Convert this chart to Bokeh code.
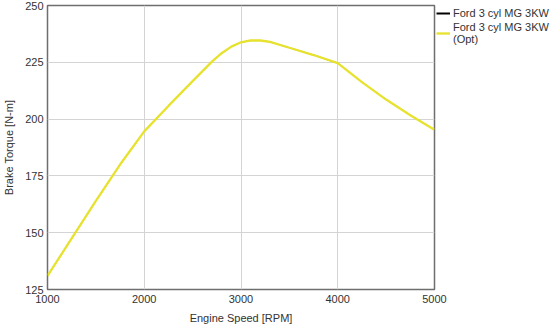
from bokeh.plotting import figure
from bokeh.models import Legend, LegendItem, FixedTicker, Range1d
from bokeh.embed import file_html
from bokeh.resources import INLINE

rpm = [1000, 1250, 1500, 1750, 2000, 2250, 2500, 2700, 2800, 2900, 3000, 3100, 3200, 3300, 3500, 3750, 4000, 4250, 4500, 4750, 5000]
torque = [131.0, 147.5, 164.0, 180.0, 194.6, 205.8, 216.7, 225.3, 229.0, 231.9, 233.8, 234.6, 234.6, 234.0, 231.4, 228.2, 224.6, 216.3, 208.6, 201.7, 195.3]
torque_opt = list(torque)
x_ticks = [1000, 2000, 3000, 4000, 5000]
y_ticks = [125, 150, 175, 200, 225, 250]
series_names = ["Ford 3 cyl MG 3KW", "Ford 3 cyl MG 3KW\n(Opt)"]

FONT = "Liberation Sans"

p = figure(frame_width=387, frame_height=284, output_backend="svg", toolbar_location=None,
           x_range=Range1d(1000, 5000), y_range=Range1d(125, 250),
           min_border_top=5, min_border_bottom=0, min_border_left=0, min_border_right=0)
p.background_fill_color = "white"
p.border_fill_color = "white"
p.outline_line_color = "#6e6e6e"
p.outline_line_width = 1.5

# black series lies underneath the optimised (yellow) series
p.line(rpm, torque, line_color="black", line_width=1)
r2 = p.line(rpm, torque_opt, line_color="#e6e22e", line_width=2.3)
# legend swatch for black series (a single point draws no visible line)
r1 = p.line(rpm[:1], torque[:1], line_color="black", line_width=2)

for ax in (p.xaxis[0], p.yaxis[0]):
    ax.axis_line_color = None
    ax.major_tick_line_color = None
    ax.minor_tick_line_color = None
    ax.major_label_text_font = FONT
    ax.major_label_text_font_size = "11px"
    ax.major_label_text_color = "#333333"
    ax.axis_label_text_font = FONT
    ax.axis_label_text_font_size = "11px"
    ax.axis_label_text_font_style = "normal"
    ax.axis_label_text_color = "#333333"
    ax.major_tick_out = 0
    ax.major_tick_in = 0

p.xaxis.ticker = FixedTicker(ticks=x_ticks)
p.yaxis.ticker = FixedTicker(ticks=y_ticks)
p.xaxis.axis_label = "Engine Speed [RPM]"
p.yaxis.axis_label = "Brake Torque [N-m]"
p.xaxis.major_label_standoff = 5
p.yaxis.major_label_standoff = 4
p.xaxis.axis_label_standoff = 6
p.yaxis.axis_label_standoff = 7

p.xgrid.ticker = FixedTicker(ticks=x_ticks)
p.ygrid.ticker = FixedTicker(ticks=y_ticks)
p.grid.grid_line_color = "#d4d4d4"
p.grid.grid_line_width = 1

legend = Legend(items=[LegendItem(label=series_names[0], renderers=[r1]),
                       LegendItem(label=series_names[1], renderers=[r2])],
                location="top_left")
legend.border_line_color = None
legend.background_fill_alpha = 0
legend.label_text_font = FONT
legend.label_text_font_size = "11px"
legend.label_text_color = "#333333"
legend.glyph_width = 14
legend.glyph_height = 12
legend.label_standoff = 3
legend.spacing = 2
legend.padding = 0
legend.margin = 2
legend.label_height = 12
p.add_layout(legend, "right")

open("out.html", "w").write(file_html(p, INLINE))
